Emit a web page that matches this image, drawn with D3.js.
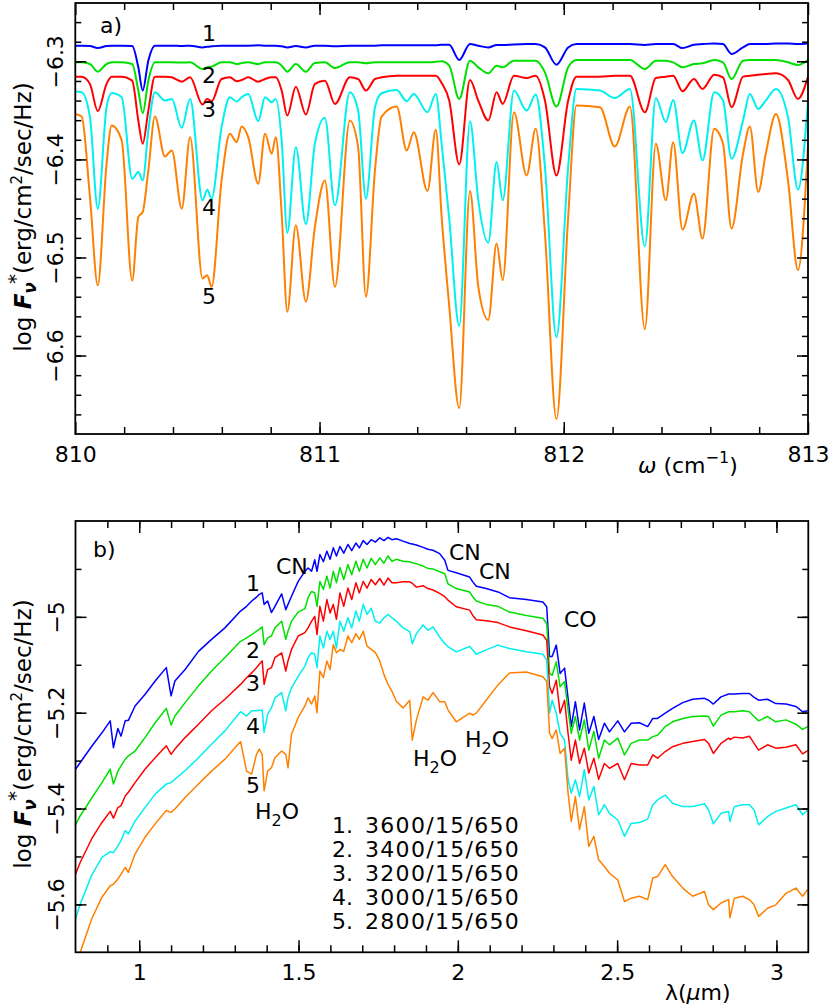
<!DOCTYPE html>
<html>
<head>
<meta charset="utf-8">
<script src="https://cdn.jsdelivr.net/npm/d3@7"></script>
<style>
  body { margin: 0; background: #fff; }
  text { font-family: "DejaVu Sans", sans-serif; }
</style>
</head>
<body>
<svg id="chart" width="830" height="1007"></svg>
<script>
// ---- Panel a: high resolution piece of the spectrum (wavenumber, cm^-1) ----
const wavenumbers = [
  810.000, 810.026, 810.060, 810.092, 810.128, 810.149, 810.190, 810.233, 810.258, 810.276,
  810.299, 810.326, 810.367, 810.395, 810.436, 810.470, 810.521, 810.540, 810.558, 810.599,
  810.633, 810.661, 810.681, 810.708, 810.749, 810.777, 810.804, 810.821, 810.845, 810.868,
  810.903, 810.944, 810.981, 811.022, 811.063, 811.124, 811.158, 811.190, 811.227, 811.254,
  811.316, 811.357, 811.386, 811.442, 811.476, 811.500, 811.531, 811.572, 811.616, 811.650,
  811.691, 811.725, 811.750, 811.796, 811.848, 811.885, 811.923, 811.970, 812.018, 812.052,
  812.148, 812.209, 812.271, 812.332, 812.377, 812.418, 812.448, 812.486, 812.533, 812.568,
  812.616, 812.652, 812.687, 812.734, 812.762, 812.796, 812.827, 812.869, 812.918, 812.959,
  813.000
];
const fluxA1 = [
  -6.2840, -6.2840, -6.2844, -6.2864, -6.2844, -6.2840, -6.2840, -6.2844, -6.3061, -6.3298,
  -6.2993, -6.2840, -6.2840, -6.2840, -6.2844, -6.2840, -6.2858, -6.2851, -6.2847, -6.2840,
  -6.2840, -6.2840, -6.2840, -6.2840, -6.2837, -6.2840, -6.2840, -6.2840, -6.2847, -6.2858,
  -6.2844, -6.2858, -6.2840, -6.2840, -6.2847, -6.2840, -6.2840, -6.2840, -6.2840, -6.2837,
  -6.2837, -6.2837, -6.2837, -6.2837, -6.2837, -6.2830, -6.2831, -6.2986, -6.2824, -6.2841,
  -6.2858, -6.2834, -6.2834, -6.2827, -6.2824, -6.2824, -6.2858, -6.3034, -6.2858, -6.2824,
  -6.2824, -6.2824, -6.2824, -6.2834, -6.2824, -6.2824, -6.2824, -6.2865, -6.2831, -6.2824,
  -6.2817, -6.2824, -6.2925, -6.2858, -6.2824, -6.2824, -6.2824, -6.2817, -6.2817, -6.2824,
  -6.2817
];
const fluxA2 = [
  -6.3010, -6.3010, -6.3027, -6.3105, -6.3027, -6.3010, -6.3010, -6.3027, -6.3298, -6.3529,
  -6.3197, -6.3010, -6.3010, -6.3010, -6.3013, -6.3010, -6.3078, -6.3061, -6.3054, -6.3010,
  -6.3010, -6.3027, -6.3017, -6.3010, -6.3027, -6.3010, -6.3010, -6.3010, -6.3044, -6.3105,
  -6.3027, -6.3105, -6.3017, -6.3010, -6.3068, -6.3010, -6.3010, -6.3020, -6.3010, -6.3010,
  -6.3010, -6.3010, -6.3010, -6.3010, -6.3005, -6.3000, -6.3044, -6.3383, -6.2993, -6.3061,
  -6.3122, -6.3044, -6.3061, -6.2993, -6.2993, -6.2993, -6.3112, -6.3461, -6.3061, -6.2986,
  -6.2986, -6.2986, -6.2986, -6.3078, -6.2993, -6.2993, -6.3010, -6.3061, -6.3027, -6.3020,
  -6.2986, -6.3010, -6.3180, -6.2993, -6.2986, -6.2986, -6.2986, -6.2986, -6.3010, -6.3037,
  -6.2986
];
const fluxA3 = [
  -6.3156, -6.3156, -6.3230, -6.3508, -6.3230, -6.3156, -6.3156, -6.3197, -6.3603, -6.3841,
  -6.3502, -6.3156, -6.3156, -6.3163, -6.3207, -6.3163, -6.3441, -6.3383, -6.3407, -6.3180,
  -6.3163, -6.3203, -6.3190, -6.3163, -6.3207, -6.3180, -6.3163, -6.3163, -6.3298, -6.3553,
  -6.3258, -6.3542, -6.3230, -6.3197, -6.3434, -6.3163, -6.3180, -6.3298, -6.3180, -6.3163,
  -6.3146, -6.3146, -6.3146, -6.3146, -6.3146, -6.3220, -6.3400, -6.4051, -6.3190, -6.3400,
  -6.3603, -6.3315, -6.3434, -6.3146, -6.3170, -6.3146, -6.3400, -6.4163, -6.3400, -6.3156,
  -6.3156, -6.3146, -6.3146, -6.3519, -6.3170, -6.3156, -6.3146, -6.3305, -6.3180, -6.3281,
  -6.3136, -6.3163, -6.3468, -6.3156, -6.3146, -6.3136, -6.3129, -6.3122, -6.3190, -6.3383,
  -6.3156
];
const fluxA4 = [
  -6.3308, -6.3315, -6.3570, -6.4502, -6.3468, -6.3322, -6.3366, -6.4197, -6.4129, -6.4214,
  -6.3705, -6.3315, -6.3400, -6.3383, -6.3678, -6.3383, -6.4417, -6.4309, -6.4400, -6.3671,
  -6.3366, -6.3410, -6.3366, -6.3332, -6.3610, -6.3366, -6.3417, -6.3383, -6.3807, -6.4749,
  -6.3875, -6.4661, -6.3841, -6.3576, -6.4468, -6.3315, -6.3502, -6.4400, -6.3468, -6.3325,
  -6.3292, -6.3407, -6.3332, -6.3519, -6.3332, -6.3841, -6.4603, -6.5698, -6.3610, -6.4417,
  -6.4851, -6.4027, -6.4417, -6.3298, -6.3502, -6.3339, -6.4078, -6.5814, -6.4078, -6.3281,
  -6.3298, -6.3373, -6.3281, -6.4885, -6.3373, -6.3620, -6.3393, -6.3936, -6.3603, -6.4010,
  -6.3315, -6.3400, -6.3993, -6.3603, -6.3332, -6.3485, -6.3400, -6.3281, -6.3569, -6.4308,
  -6.3400
];
const fluxA5 = [
  -6.3536, -6.3563, -6.4383, -6.5282, -6.4044, -6.3654, -6.3807, -6.5238, -6.4587, -6.4536,
  -6.4112, -6.3563, -6.3970, -6.3908, -6.4502, -6.3773, -6.5214, -6.5180, -6.5299, -6.4214,
  -6.3739, -6.3824, -6.3664, -6.3773, -6.4248, -6.3739, -6.3942, -6.3773, -6.4553, -6.5553,
  -6.4671, -6.5451, -6.4688, -6.4214, -6.5299, -6.3603, -6.3875, -6.5400, -6.4112, -6.3563,
  -6.3461, -6.3908, -6.3722, -6.4322, -6.3698, -6.4586, -6.5495, -6.6536, -6.4322, -6.5298,
  -6.5637, -6.4858, -6.5231, -6.3519, -6.4163, -6.3688, -6.4756, -6.6648, -6.4586, -6.3451,
  -6.3468, -6.3868, -6.3461, -6.5732, -6.3841, -6.4417, -6.3824, -6.4715, -6.4349, -6.4807,
  -6.3688, -6.3841, -6.4705, -6.3942, -6.3664, -6.4332, -6.3942, -6.3536, -6.4214, -6.5129,
  -6.3858
];

// ---- Panel b: low resolution spectrum (wavelength, micron) ----
const wavelengths = [
  0.800, 0.815, 0.851, 0.883, 0.909, 0.919, 0.933, 0.943, 0.956, 0.966,
  0.987, 1.018, 1.050, 1.085, 1.100, 1.112, 1.144, 1.186, 1.227, 1.269,
  1.318, 1.337, 1.353, 1.368, 1.377, 1.386, 1.392, 1.403, 1.415,
  1.426, 1.447, 1.460, 1.467, 1.478, 1.499, 1.520, 1.530, 1.541, 1.551,
  1.558, 1.567, 1.578, 1.589, 1.599, 1.609, 1.619, 1.630, 1.642, 1.655,
  1.667, 1.680, 1.691, 1.703, 1.715, 1.728, 1.741, 1.755, 1.768, 1.781,
  1.793, 1.807, 1.828,
  1.849, 1.857, 1.870, 1.891, 1.906, 1.922, 1.943, 1.959, 1.969, 1.995,
  2.037, 2.047, 2.058, 2.089, 2.126, 2.162, 2.215, 2.267, 2.279, 2.288,
  2.296, 2.309, 2.321, 2.335, 2.346, 2.356, 2.369, 2.382, 2.397, 2.411,
  2.427, 2.442, 2.460, 2.476, 2.502, 2.523, 2.544, 2.570, 2.596, 2.612,
  2.627, 2.651, 2.674, 2.706, 2.737, 2.774, 2.787, 2.802, 2.826, 2.850,
  2.854, 2.868, 2.894, 2.915, 2.930, 2.944, 2.972, 2.998, 3.030, 3.061,
  3.082, 3.098
];
const fluxB1 = [
  -5.318, -5.304, -5.270, -5.242, -5.217, -5.273, -5.233, -5.249, -5.217, -5.216,
  -5.186, -5.162, -5.134, -5.106, -5.165, -5.134, -5.110, -5.072, -5.047, -5.023,
  -4.988, -4.978, -4.967, -4.959, -4.953, -4.950, -4.974, -4.967, -4.991,
  -4.978, -4.952, -4.985, -4.974, -4.957, -4.926, -4.905, -4.898, -4.905, -4.881,
  -4.905, -4.870, -4.885, -4.863, -4.880, -4.856, -4.873, -4.853, -4.867, -4.849,
  -4.862, -4.846, -4.856, -4.841, -4.849, -4.839, -4.844, -4.835, -4.841, -4.834,
  -4.839, -4.837, -4.842,
  -4.847, -4.848, -4.850, -4.855, -4.859, -4.861, -4.868, -4.882, -4.903, -4.908,
  -4.917, -4.927, -4.936, -4.941, -4.948, -4.960, -4.964, -4.969, -4.979, -5.083,
  -5.083, -5.059, -5.118, -5.107, -5.170, -5.229, -5.177, -5.236, -5.180, -5.243,
  -5.208, -5.256, -5.222, -5.240, -5.217, -5.240, -5.222, -5.221, -5.229, -5.212,
  -5.212, -5.201, -5.191, -5.179, -5.172, -5.170, -5.174, -5.182, -5.167, -5.161,
  -5.161, -5.161, -5.160, -5.160, -5.168, -5.174, -5.172, -5.181, -5.182, -5.187,
  -5.198, -5.196
];
const fluxB2 = [
  -5.434, -5.415, -5.378, -5.346, -5.318, -5.349, -5.322, -5.311, -5.297, -5.290,
  -5.280, -5.252, -5.221, -5.191, -5.226, -5.207, -5.179, -5.144, -5.113, -5.085,
  -5.051, -5.044, -5.037, -5.030, -5.026, -5.021, -5.058, -5.044, -5.040,
  -5.023, -5.009, -5.047, -5.030, -5.009, -4.990, -4.983, -4.960, -4.947, -4.950,
  -4.978, -4.926, -4.943, -4.915, -4.940, -4.905, -4.929, -4.897, -4.922, -4.891,
  -4.912, -4.884, -4.905, -4.880, -4.898, -4.878, -4.891, -4.877, -4.888, -4.873,
  -4.884, -4.880, -4.884,
  -4.885, -4.887, -4.889, -4.894, -4.899, -4.900, -4.906, -4.910, -4.931, -4.941,
  -4.948, -4.958, -4.967, -4.974, -4.978, -4.990, -4.997, -5.003, -5.014, -5.118,
  -5.122, -5.094, -5.146, -5.135, -5.194, -5.243, -5.208, -5.257, -5.215, -5.278,
  -5.239, -5.295, -5.257, -5.267, -5.253, -5.288, -5.264, -5.257, -5.257, -5.250,
  -5.247, -5.229, -5.219, -5.212, -5.208, -5.207, -5.208, -5.228, -5.205, -5.198,
  -5.198, -5.198, -5.196, -5.198, -5.208, -5.217, -5.208, -5.219, -5.215, -5.224,
  -5.235, -5.229
];
const fluxB3 = [
  -5.537, -5.512, -5.463, -5.429, -5.406, -5.420, -5.398, -5.394, -5.374, -5.366,
  -5.346, -5.318, -5.294, -5.269, -5.287, -5.276, -5.252, -5.224, -5.196, -5.172,
  -5.141, -5.127, -5.117, -5.106, -5.099, -5.092, -5.141, -5.110, -5.106,
  -5.085, -5.075, -5.113, -5.092, -5.068, -5.040, -5.033, -5.023, -5.009, -4.999,
  -5.037, -4.978, -5.009, -4.964, -4.992, -4.974, -5.005, -4.950, -4.978, -4.940,
  -4.964, -4.929, -4.950, -4.926, -4.940, -4.922, -4.933, -4.920, -4.934, -4.919,
  -4.929, -4.929, -4.927,
  -4.927, -4.930, -4.938, -4.935, -4.941, -4.944, -4.951, -4.958, -4.965, -4.979,
  -4.986, -4.997, -5.006, -5.008, -5.012, -5.021, -5.029, -5.038, -5.049, -5.146,
  -5.160, -5.132, -5.201, -5.174, -5.243, -5.299, -5.257, -5.306, -5.274, -5.326,
  -5.295, -5.339, -5.306, -5.316, -5.306, -5.340, -5.306, -5.309, -5.309, -5.288,
  -5.295, -5.281, -5.271, -5.264, -5.260, -5.256, -5.264, -5.285, -5.264, -5.253,
  -5.256, -5.251, -5.253, -5.249, -5.264, -5.278, -5.267, -5.274, -5.272, -5.267,
  -5.286, -5.279
];
const fluxB4 = [
  -5.630, -5.599, -5.539, -5.502, -5.490, -5.492, -5.478, -5.467, -5.446, -5.453,
  -5.426, -5.398, -5.370, -5.349, -5.346, -5.339, -5.321, -5.294, -5.266, -5.238,
  -5.198, -5.207, -5.196, -5.196, -5.195, -5.195, -5.241, -5.203, -5.190,
  -5.169, -5.158, -5.196, -5.169, -5.148, -5.124, -5.103, -5.085, -5.075, -5.078,
  -5.106, -5.040, -5.065, -5.030, -5.047, -5.030, -5.065, -5.009, -5.030, -5.002,
  -5.023, -4.988, -5.009, -4.974, -4.995, -4.982, -5.009, -5.013, -5.002, -4.995,
  -5.002, -5.009, -5.023,
  -5.031, -5.056, -5.035, -5.017, -5.028, -5.021, -5.042, -5.056, -5.062, -5.073,
  -5.062, -5.069, -5.078, -5.069, -5.059, -5.066, -5.073, -5.078, -5.090, -5.201,
  -5.174, -5.201, -5.243, -5.257, -5.340, -5.368, -5.340, -5.375, -5.319, -5.382,
  -5.354, -5.413, -5.392, -5.410, -5.424, -5.458, -5.431, -5.429, -5.422, -5.392,
  -5.382, -5.372, -5.389, -5.396, -5.396, -5.390, -5.403, -5.432, -5.410, -5.406,
  -5.427, -5.396, -5.392, -5.392, -5.403, -5.434, -5.417, -5.406, -5.399, -5.392,
  -5.413, -5.403
];
const fluxB5 = [
  -5.735, -5.700, -5.630, -5.585, -5.561, -5.558, -5.547, -5.537, -5.523, -5.533,
  -5.495, -5.460, -5.432, -5.404, -5.408, -5.401, -5.377, -5.349, -5.322, -5.297,
  -5.260, -5.322, -5.328, -5.287, -5.276, -5.287, -5.363, -5.322, -5.315,
  -5.294, -5.280, -5.287, -5.315, -5.245, -5.210, -5.186, -5.169, -5.182, -5.165,
  -5.200, -5.113, -5.127, -5.092, -5.110, -5.058, -5.075, -5.068, -5.072, -5.040,
  -5.054, -5.035, -5.047, -5.030, -5.061, -5.068, -5.074, -5.092, -5.120, -5.141,
  -5.155, -5.176, -5.190,
  -5.174, -5.257, -5.215, -5.167, -5.174, -5.158, -5.177, -5.177, -5.194, -5.219,
  -5.201, -5.205, -5.201, -5.174, -5.142, -5.117, -5.115, -5.125, -5.135, -5.243,
  -5.254, -5.236, -5.285, -5.274, -5.368, -5.427, -5.375, -5.444, -5.396, -5.479,
  -5.458, -5.507, -5.521, -5.535, -5.549, -5.594, -5.587, -5.583, -5.590, -5.545,
  -5.542, -5.517, -5.542, -5.566, -5.583, -5.573, -5.601, -5.611, -5.597, -5.590,
  -5.628, -5.587, -5.583, -5.590, -5.601, -5.625, -5.608, -5.601, -5.577, -5.566,
  -5.583, -5.569
];

// model labels and colours
const modelNames = ["3600/15/650", "3400/15/650", "3200/15/650", "3000/15/650", "2800/15/650"];
const curveColors = ["#0000ff", "#00e000", "#ff0000", "#00f0f0", "#ff8000"];

// tick values
const ticksAx = [810, 811, 812, 813];
const ticksAy = [-6.3, -6.4, -6.5, -6.6];
const ticksBx = [1, 1.5, 2, 2.5, 3];
const ticksBy = [-5, -5.2, -5.4, -5.6];

const svg = d3.select("#chart");

// plot boxes
const boxA = { left: 75.3, right: 808, top: 3, bottom: 434 };
const boxB = { left: 75.5, right: 808.3, top: 521, bottom: 952.3 };

const xA = d3.scaleLinear().domain([810, 813]).range([boxA.left, boxA.right]);
const yA = d3.scaleLinear().domain([-6.68, -6.2405]).range([boxA.bottom, boxA.top]);
const xB = d3.scaleLinear().domain([0.8, 3.1]).range([boxB.left, boxB.right]);
const yB = d3.scaleLinear().domain([-5.7, -4.8]).range([boxB.bottom, boxB.top]);

// clip paths
const defs = svg.append("defs");
[["clipA", boxA], ["clipB", boxB]].forEach(([id, b]) => {
    defs.append("clipPath").attr("id", id)
        .append("rect")
        .attr("x", b.left).attr("y", b.top)
        .attr("width", b.right - b.left).attr("height", b.bottom - b.top);
});

// draw curves of one panel
function drawCurves(xs, series, x, y, clipId, curve, width) {
    const g = svg.append("g").attr("clip-path", `url(#${clipId})`);
    const line = d3.line()
        .x((d, i) => x(xs[i]))
        .y(d => y(d))
        .curve(curve);
    series.forEach((vals, k) => {
        g.append("path")
            .attr("d", line(vals))
            .attr("fill", "none")
            .attr("stroke", curveColors[k])
            .attr("stroke-width", width)
            .attr("stroke-linejoin", "round");
    });
}

drawCurves(wavenumbers, [fluxA1, fluxA2, fluxA3, fluxA4, fluxA5], xA, yA, "clipA", d3.curveMonotoneX, 2);
drawCurves(wavelengths, [fluxB1, fluxB2, fluxB3, fluxB4, fluxB5], xB, yB, "clipB", d3.curveLinear, 1.5);

// axes with inward ticks on all four sides
function drawFrame(box, x, y, xMajor, xMinor, yMajor, yMinor, xFmt, yFmt) {
    const styleAxis = g => {
        g.select(".domain").remove();
        g.selectAll("line").attr("stroke", "#000").attr("stroke-width", 1.5);
        g.attr("font-size", 22).attr("font-family", "DejaVu Sans, sans-serif");
        g.selectAll("text").attr("fill", "#000");
    };
    // bottom
    svg.append("g").attr("transform", `translate(0,${box.bottom})`)
        .call(d3.axisBottom(x).tickValues(xMajor).tickSize(-12).tickPadding(12).tickFormat(xFmt))
        .call(styleAxis);
    svg.append("g").attr("transform", `translate(0,${box.bottom})`)
        .call(d3.axisBottom(x).tickValues(xMinor).tickSize(-7).tickFormat(""))
        .call(styleAxis);
    // top
    svg.append("g").attr("transform", `translate(0,${box.top})`)
        .call(d3.axisTop(x).tickValues(xMajor).tickSize(-12).tickFormat(""))
        .call(styleAxis);
    svg.append("g").attr("transform", `translate(0,${box.top})`)
        .call(d3.axisTop(x).tickValues(xMinor).tickSize(-7).tickFormat(""))
        .call(styleAxis);
    // left, labels turned upright along the axis
    svg.append("g").attr("transform", `translate(${box.left},0)`)
        .call(d3.axisLeft(y).tickValues(yMajor).tickSize(-11).tickFormat(yFmt))
        .call(styleAxis)
        .call(g => g.selectAll("text")
            .attr("x", null).attr("dy", null)
            .attr("text-anchor", "middle")
            .attr("transform", "translate(-12,0) rotate(-90)"));
    svg.append("g").attr("transform", `translate(${box.left},0)`)
        .call(d3.axisLeft(y).tickValues(yMinor).tickSize(-6).tickFormat(""))
        .call(styleAxis);
    // right
    svg.append("g").attr("transform", `translate(${box.right},0)`)
        .call(d3.axisRight(y).tickValues(yMajor).tickSize(-11).tickFormat(""))
        .call(styleAxis);
    svg.append("g").attr("transform", `translate(${box.right},0)`)
        .call(d3.axisRight(y).tickValues(yMinor).tickSize(-6).tickFormat(""))
        .call(styleAxis);
    svg.append("rect")
        .attr("x", box.left).attr("y", box.top)
        .attr("width", box.right - box.left).attr("height", box.bottom - box.top)
        .attr("fill", "none").attr("stroke", "#000").attr("stroke-width", 1.8);
}

const fmt1 = d3.format(".1~f");
drawFrame(boxA, xA, yA,
    ticksAx, d3.range(810.2, 813, 0.2),
    ticksAy, d3.range(-6.66, -6.24, 0.02),
    d3.format("d"), fmt1);
drawFrame(boxB, xB, yB,
    ticksBx, d3.range(0.9, 3.1, 0.1),
    ticksBy, d3.range(-5.6, -4.8, 0.1),
    fmt1, fmt1);

// text helpers
function label(x, y, txt, anchor = "start", size = 22) {
    return svg.append("text")
        .attr("x", x).attr("y", y)
        .attr("font-size", size)
        .attr("text-anchor", anchor)
        .text(txt);
}
function water(x, y) {
    const t = svg.append("text").attr("x", x).attr("y", y).attr("font-size", 22);
    t.append("tspan").text("H");
    t.append("tspan").attr("font-size", 16).attr("dy", 7).text("2");
    t.append("tspan").attr("dy", -7).text("O");
}
function yTitle(cx, cy) {
    const t = svg.append("text")
        .attr("transform", `translate(${cx},${cy}) rotate(-90)`)
        .attr("text-anchor", "middle")
        .attr("font-size", 23);
    t.append("tspan").text("log ");
    t.append("tspan").attr("font-weight", "bold").attr("font-style", "italic").text("F");
    t.append("tspan").attr("font-weight", "bold").attr("font-style", "italic")
        .attr("font-size", 17).attr("dy", 5).text("\u03bd");
    t.append("tspan").attr("font-size", 20).attr("dy", -14).attr("dx", -2).text("*");
    t.append("tspan").attr("dy", 9).text("(erg/cm");
    t.append("tspan").attr("font-size", 15).attr("dy", -9).text("2");
    t.append("tspan").attr("dy", 9).text("/sec/Hz)");
}

// ---- panel a annotations ----
label(100, 33, "a)");
[41, 83, 117, 215, 304].forEach((yy, i) => label(209, yy, String(i + 1), "middle"));
{
    const t = svg.append("text").attr("x", 638).attr("y", 473).attr("font-size", 22);
    t.append("tspan").attr("font-style", "italic").text("\u03c9");
    t.append("tspan").text(" (cm");
    t.append("tspan").attr("font-size", 16).attr("dy", -10).text("\u22121");
    t.append("tspan").attr("dy", 10).text(")");
}
yTitle(31, 217);

// ---- panel b annotations ----
label(93, 557, "b)");
[591, 658, 691, 734, 793].forEach((yy, i) => label(253, yy, String(i + 1), "middle"));
label(276, 574, "CN");
label(449, 560, "CN");
label(479, 579, "CN");
label(564, 627, "CO");
water(255, 819);
water(413, 766);
water(465, 747);
modelNames.forEach((name, i) => {
    const yy = 833 + i * 24.1;
    label(332, yy, `${i + 1}.`);
    label(365, yy, name).attr("letter-spacing", 1.3);
});
{
    const t = svg.append("text").attr("x", 665).attr("y", 1000).attr("font-size", 22);
    t.append("tspan").text("\u03bb(");
    t.append("tspan").attr("font-style", "italic").text("\u03bc");
    t.append("tspan").text("m)");
}
yTitle(31, 734);
</script>
</body>
</html>
